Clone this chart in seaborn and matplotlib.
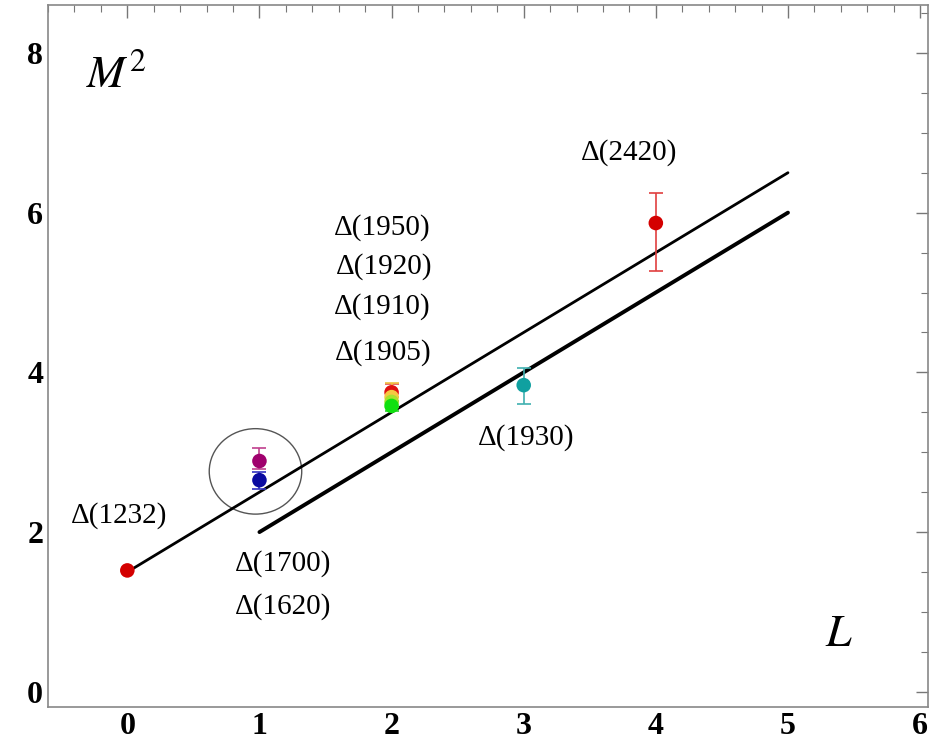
import numpy as np
import pandas as pd
import seaborn as sns
import matplotlib.pyplot as plt
from matplotlib.patches import Ellipse
from matplotlib.ticker import MultipleLocator

# data points (L, M^2) with asymmetric errors
L_vals = [0, 1, 1, 2, 2, 2, 2, 3, 4]
M2_vals = [1.52, 2.89, 2.65, 3.75, 3.69, 3.63, 3.58, 3.84, 5.87]
err_lo = [0.0, 0.10, 0.11, 0.06, 0.06, 0.06, 0.06, 0.24, 0.60]
err_hi = [0.0, 0.16, 0.10, 0.10, 0.18, 0.06, 0.06, 0.22, 0.38]
colors = ['#d40000', '#a0006e', '#0a0aa0', '#e01010', '#f5c842',
          '#a6e22e', '#10e010', '#10a0a0', '#d40000']
err_colors = ['#d40000', '#c0408e', '#3030c0', '#e05050', '#f0c040',
              '#a6e22e', '#30d030', '#40b0b0', '#e04040']

# trajectories
traj1_L = [0, 5]
traj1_M2 = [1.5, 6.5]
traj2_L = [1, 5]
traj2_M2 = [2.0, 6.0]

labels = [
    ('Δ(1232)', -0.06, 2.21),
    ('Δ(1700)', 1.18, 1.61),
    ('Δ(1620)', 1.18, 1.07),
    ('Δ(1950)', 1.93, 5.81),
    ('Δ(1920)', 1.94, 5.33),
    ('Δ(1910)', 1.93, 4.83),
    ('Δ(1905)', 1.94, 4.25),
    ('Δ(1930)', 3.02, 3.18),
    ('Δ(2420)', 3.80, 6.75),
]

sns.set_style('white')
plt.rcParams['font.family'] = ['Liberation Serif', 'DejaVu Serif']
plt.rcParams['mathtext.fontset'] = 'stix'
plt.rcParams['text.color'] = 'black'

fig = plt.figure(figsize=(9.31, 7.46), dpi=100)
ax = fig.add_axes([0.0516, 0.0523, 0.9452, 0.941])

sns.lineplot(x=traj1_L, y=traj1_M2, color='black', lw=2.0, ax=ax)
sns.lineplot(x=traj2_L, y=traj2_M2, color='black', lw=2.8, ax=ax)

for i in range(len(L_vals)):
    if err_lo[i] > 0:
        ax.errorbar(L_vals[i], M2_vals[i], yerr=[[err_lo[i]], [err_hi[i]]],
                    fmt='none', ecolor=err_colors[i], elinewidth=1.2,
                    capsize=5, capthick=1.2, zorder=3)

df = pd.DataFrame({'L': L_vals, 'M2': M2_vals, 'c': range(len(L_vals))})
sns.scatterplot(data=df, x='L', y='M2', hue='c', palette=colors, s=110,
                edgecolor='none', legend=False, zorder=4, ax=ax)

ax.add_patch(Ellipse((0.97, 2.76), 0.70, 1.07, fill=False, ec='#555555', lw=1.0))

for txt, x, y in labels:
    ax.text(x, y, txt, fontsize=21, ha='center', va='center', color='black')

ax.text(-0.08, 7.71, r'$M^2$', fontsize=33, ha='center', va='center', color='black')
ax.text(5.39, 0.72, r'$L$', fontsize=33, ha='center', va='center', color='black')

ax.set_xlim(-0.6, 6.06)
ax.set_ylim(-0.19, 8.6)
ax.set_xlabel('')
ax.set_ylabel('')
ax.xaxis.set_major_locator(MultipleLocator(1))
ax.xaxis.set_minor_locator(MultipleLocator(0.2))
ax.yaxis.set_major_locator(MultipleLocator(2))
ax.yaxis.set_minor_locator(MultipleLocator(0.5))
ax.tick_params(which='both', direction='in', top=True, right=True, colors='#777777',
               labelcolor='black', labelsize=23)
ax.tick_params(which='major', length=9, width=1.0)
ax.tick_params(which='minor', length=5, width=0.8)
for lab in ax.get_xticklabels() + ax.get_yticklabels():
    lab.set_fontweight('bold')
for sp in ax.spines.values():
    sp.set_color('#888888')
    sp.set_linewidth(1.2)

fig.savefig('out.png', dpi=100)
